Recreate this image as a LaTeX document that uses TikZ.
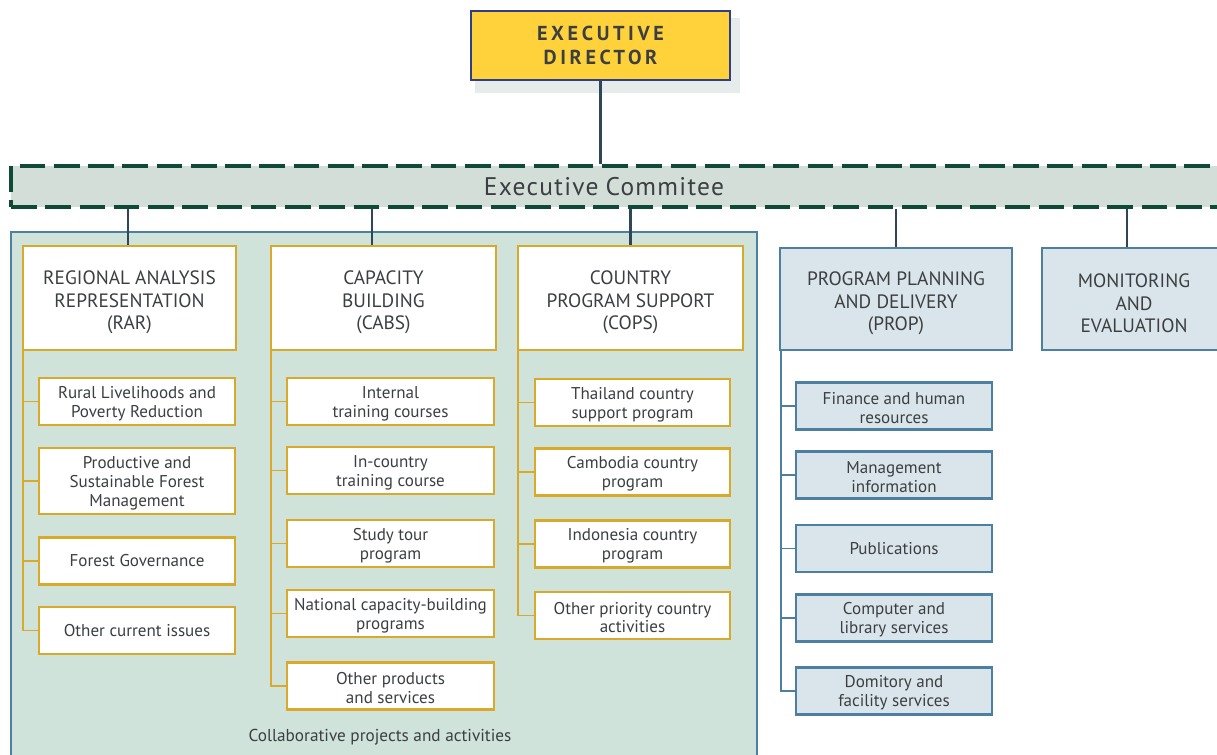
\documentclass[tikz,border=0pt]{standalone}
\usepackage{fontspec}
\setmainfont{PT Sans}
\usetikzlibrary{positioning}

\definecolor{dirYellow}{HTML}{FFD13B}
\definecolor{dirBlue}{HTML}{2E3F86}
\definecolor{shadowGray}{HTML}{E6ECEC}
\definecolor{barFill}{HTML}{D3DED8}
\definecolor{barGreen}{HTML}{0E4A36}
\definecolor{collabFill}{HTML}{D0E3DB}
\definecolor{steelBlue}{HTML}{4D7FA1}
\definecolor{gold}{HTML}{D8A92A}
\definecolor{propFill}{HTML}{DAE5EB}
\definecolor{linkDark}{HTML}{2F4656}
\definecolor{ink}{HTML}{3B3F42}

\def\px{0.02cm}
% invisible struts that push the first line down a little
\newcommand{\hstrut}{\rule{0pt}{12.8pt}}
\newcommand{\istrut}{\rule{0pt}{9.2pt}}

\tikzset{
  director/.style={draw=dirBlue, line width=1.3pt, fill=dirYellow, text=ink,
    minimum width=259*\px, minimum height=69*\px, align=center,
    font=\fontsize{11.5}{14}\selectfont\bfseries\addfontfeature{LetterSpace=18}},
  excombar/.style={draw=barGreen, line width=1.8pt, fill=barFill,
    dash pattern=on 14.6pt off 4.9pt, minimum width=1230*\px, minimum height=41*\px},
  head/.style={draw=gold, line width=1.3pt, fill=white, text=ink,
    minimum height=104*\px, align=center, inner sep=0pt,
    font=\fontsize{11}{13}\selectfont},
  bluehead/.style={head, draw=steelBlue, fill=propFill, minimum height=102*\px},
  item/.style={draw=gold, line width=1.3pt, fill=white, text=ink,
    minimum width=196*\px, minimum height=47*\px, align=center, inner sep=0pt,
    font=\fontsize{9.7}{10.8}\selectfont},
  blueitem/.style={item, draw=steelBlue, fill=propFill},
  link/.style={draw=linkDark, line width=1.2pt},
  goldline/.style={draw=gold, line width=1.1pt},
  blueline/.style={draw=steelBlue, line width=1.1pt}
}

\begin{document}
\begin{tikzpicture}[x=0.02cm, y=-0.02cm]

  \useasboundingbox (0,0) rectangle (1217,754);

  % === Executive director with its shadow
  \fill[shadowGray] (475,18) rectangle (740,93);
  \node[director] (dir) at (600.5,45.5) {EXECUTIVE\\DIRECTOR};

  % === Executive committee bar
  \node[excombar] (excom) at (626,186.5) {};
  \node[text=ink, font=\fontsize{14.5}{16}\selectfont\addfontfeature{LetterSpace=5}]
    (excomtext) at (604,187) {Executive\hspace{4pt}Commitee};
  \draw[link] (dir.south) -- (dir.south |- excom.north);

  % === Collaborative area
  \filldraw[fill=collabFill, draw=steelBlue, line width=1.1pt] (11,232) rectangle (757,780);
  \node[text=ink, font=\fontsize{9.8}{11}\selectfont] (collab) at (380,737)
    {Collaborative projects and activities};

  % === Divisions
  \node[head, minimum width=213*\px] (rar) at (129.5,298)
    {\hstrut REGIONAL ANALYSIS\\REPRESENTATION\\(RAR)};
  \node[head, minimum width=225*\px] (cabs) at (383.5,298)
    {\hstrut CAPACITY\\BUILDING\\(CABS)};
  \node[head, minimum width=225*\px] (cops) at (630.5,298)
    {\hstrut COUNTRY\\PROGRAM SUPPORT\\(COPS)};
  \node[bluehead, minimum width=232*\px] (prop) at (896,299)
    {\hstrut PROGRAM PLANNING\\AND DELIVERY\\(PROP)};
  \node[bluehead, minimum width=184*\px] (mande) at (1134,299)
    {\hstrut MONITORING\\AND\\EVALUATION};

  % links from the committee
  \draw[link] ([xshift=-1.5*\px]rar.north) -- ([xshift=-1.5*\px]rar.north |- excom.south);
  \draw[link] ([xshift=-11.5*\px]cabs.north) -- ([xshift=-11.5*\px]cabs.north |- excom.south);
  \draw[link] (cops.north) -- (cops.north |- excom.south);
  \draw[link] (prop.north) -- (prop.north |- excom.south);
  \draw[link] ([xshift=-7*\px]mande.north) -- ([xshift=-7*\px]mande.north |- excom.south);

  % === RAR items
  \node[item] (rar1) at (137,401.5) {\istrut Rural Livelihoods and\\Poverty Reduction};
  \node[item, minimum height=66*\px] (rar2) at (137,481) {\istrut Productive and\\Sustainable Forest\\Management};
  \node[item] (rar3) at (137,561) {Forest Governance};
  \node[item] (rar4) at (137,630.5) {Other current issues};
  \foreach \i in {1,...,4}
    \draw[goldline] ([xshift=1*\px]rar.south west) |- (rar\i.west);

  % === CABS items
  \node[item, minimum width=207*\px] (cabs1) at (390.5,401.5) {\istrut Internal\\training courses};
  \node[item, minimum width=207*\px] (cabs2) at (390.5,470.5) {\istrut In-country\\training course};
  \node[item, minimum width=207*\px] (cabs3) at (390.5,543.5) {\istrut Study tour\\program};
  \node[item, minimum width=207*\px] (cabs4) at (390.5,613.5) {\istrut National capacity-building\\programs};
  \node[item, minimum width=207*\px] (cabs5) at (390.5,686) {\istrut Other products\\and services};
  \foreach \i in {1,...,5}
    \draw[goldline] ([xshift=1*\px]cabs.south west) |- (cabs\i.west);

  % === COPS items
  \node[item, minimum width=195*\px] (cops1) at (632.5,402.5) {\istrut Thailand country\\support program};
  \node[item, minimum width=195*\px] (cops2) at (632.5,472) {\istrut Cambodia country\\program};
  \node[item, minimum width=195*\px] (cops3) at (632.5,544) {\istrut Indonesia country\\program};
  \node[item, minimum width=195*\px] (cops4) at (632.5,615.5) {\istrut Other priority country\\activities};
  \foreach \i in {1,...,4}
    \draw[goldline] ([xshift=1*\px]cops.south west) |- (cops\i.west);

  % === PROP items
  \node[blueitem] (prop1) at (894,406) {\istrut Finance and human\\resources};
  \node[blueitem] (prop2) at (894,475) {\istrut Management\\information};
  \node[blueitem] (prop3) at (894,548.5) {Publications};
  \node[blueitem] (prop4) at (894,618) {\istrut Computer and\\library services};
  \node[blueitem] (prop5) at (894,691) {\istrut Domitory and\\facility services};
  \foreach \i in {1,...,5}
    \draw[blueline] ([xshift=2*\px]prop.south west) |- (prop\i.west);

\end{tikzpicture}
\end{document}
